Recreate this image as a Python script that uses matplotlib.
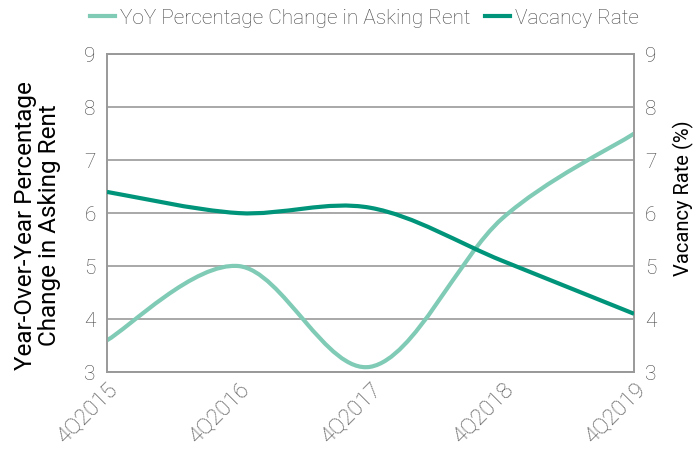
import matplotlib
matplotlib.use('Agg')
import matplotlib.pyplot as plt
from matplotlib.path import Path
from matplotlib.patches import PathPatch
from matplotlib.lines import Line2D

quarters = ['4Q2015', '4Q2016', '4Q2017', '4Q2018', '4Q2019']
rent_change = [3.6, 5.0, 3.1, 5.9, 7.5]
vacancy = [6.4, 6.0, 6.1, 5.1, 4.1]

light = '#80cbb5'
dark = '#00957a'
grey = '#444444'

plt.rcParams['font.family'] = ['Roboto', 'DejaVu Sans']


def smooth_path(xs, ys):
    # excel-style smooth line: catmull-rom segments as cubic beziers
    n = len(xs)
    verts = [(xs[0], ys[0])]
    codes = [Path.MOVETO]
    for i in range(n - 1):
        x0, y0 = (xs[i - 1], ys[i - 1]) if i > 0 else (xs[i], ys[i])
        x1, y1 = xs[i], ys[i]
        x2, y2 = xs[i + 1], ys[i + 1]
        x3, y3 = (xs[i + 2], ys[i + 2]) if i + 2 < n else (x2, y2)
        c1 = (x1 + (x2 - x0) / 6, y1 + (y2 - y0) / 6)
        c2 = (x2 - (x3 - x1) / 6, y2 - (y3 - y1) / 6)
        verts += [c1, c2, (x2, y2)]
        codes += [Path.CURVE4] * 3
    return Path(verts, codes)


fig = plt.figure(figsize=(6.96, 4.51), dpi=100)
ax = fig.add_axes([0.1537, 0.175, 0.7573, 0.705])
ax2 = ax.twinx()

xs = list(range(len(quarters)))
ax.add_patch(PathPatch(smooth_path(xs, rent_change), fill=False, edgecolor=light, lw=3, capstyle='butt', zorder=3))
ax2.add_patch(PathPatch(smooth_path(xs, vacancy), fill=False, edgecolor=dark, lw=3, capstyle='butt', zorder=3))

for a in (ax, ax2):
    a.set_ylim(3, 9)
    a.set_xlim(0, 4)
    a.set_yticks(range(3, 10))
    a.tick_params(axis='y', length=0, labelsize=15, labelcolor=grey, pad=8)
    for s in a.spines.values():
        s.set_color('#999999')
        s.set_linewidth(1.2)
    for lab in a.get_yticklabels():
        lab.set_fontweight('light')

ax.grid(axis='y', color='#999999', lw=1.2)
ax.set_axisbelow(True)
ax.set_xticks(xs)
ax.set_xticklabels(quarters, rotation=45, ha='right', rotation_mode='anchor', fontsize=16, color=grey, fontweight='light')
ax.tick_params(axis='x', length=0, pad=5)

ax.set_ylabel('Year-Over-Year Percentage\nChange in Asking Rent', fontsize=17.5, color='black', linespacing=1.05)
ax.yaxis.set_label_coords(-0.088, 0.462)
ax2.set_ylabel('Vacancy Rate (%)', fontsize=14.5, color='black')
ax2.yaxis.set_label_coords(1.073, 0.547)

handles = [Line2D([], [], color=light, lw=3), Line2D([], [], color=dark, lw=3)]
fig.legend(handles, ['YoY Percentage Change in Asking Rent', 'Vacancy Rate'], loc='center',
           bbox_to_anchor=(0.524, 0.96), ncol=2, frameon=False, handlelength=1.2,
           handletextpad=0.25, columnspacing=0.7, labelcolor=grey, prop={'weight': 'light', 'size': 15})

fig.savefig('out.png', dpi=100)
